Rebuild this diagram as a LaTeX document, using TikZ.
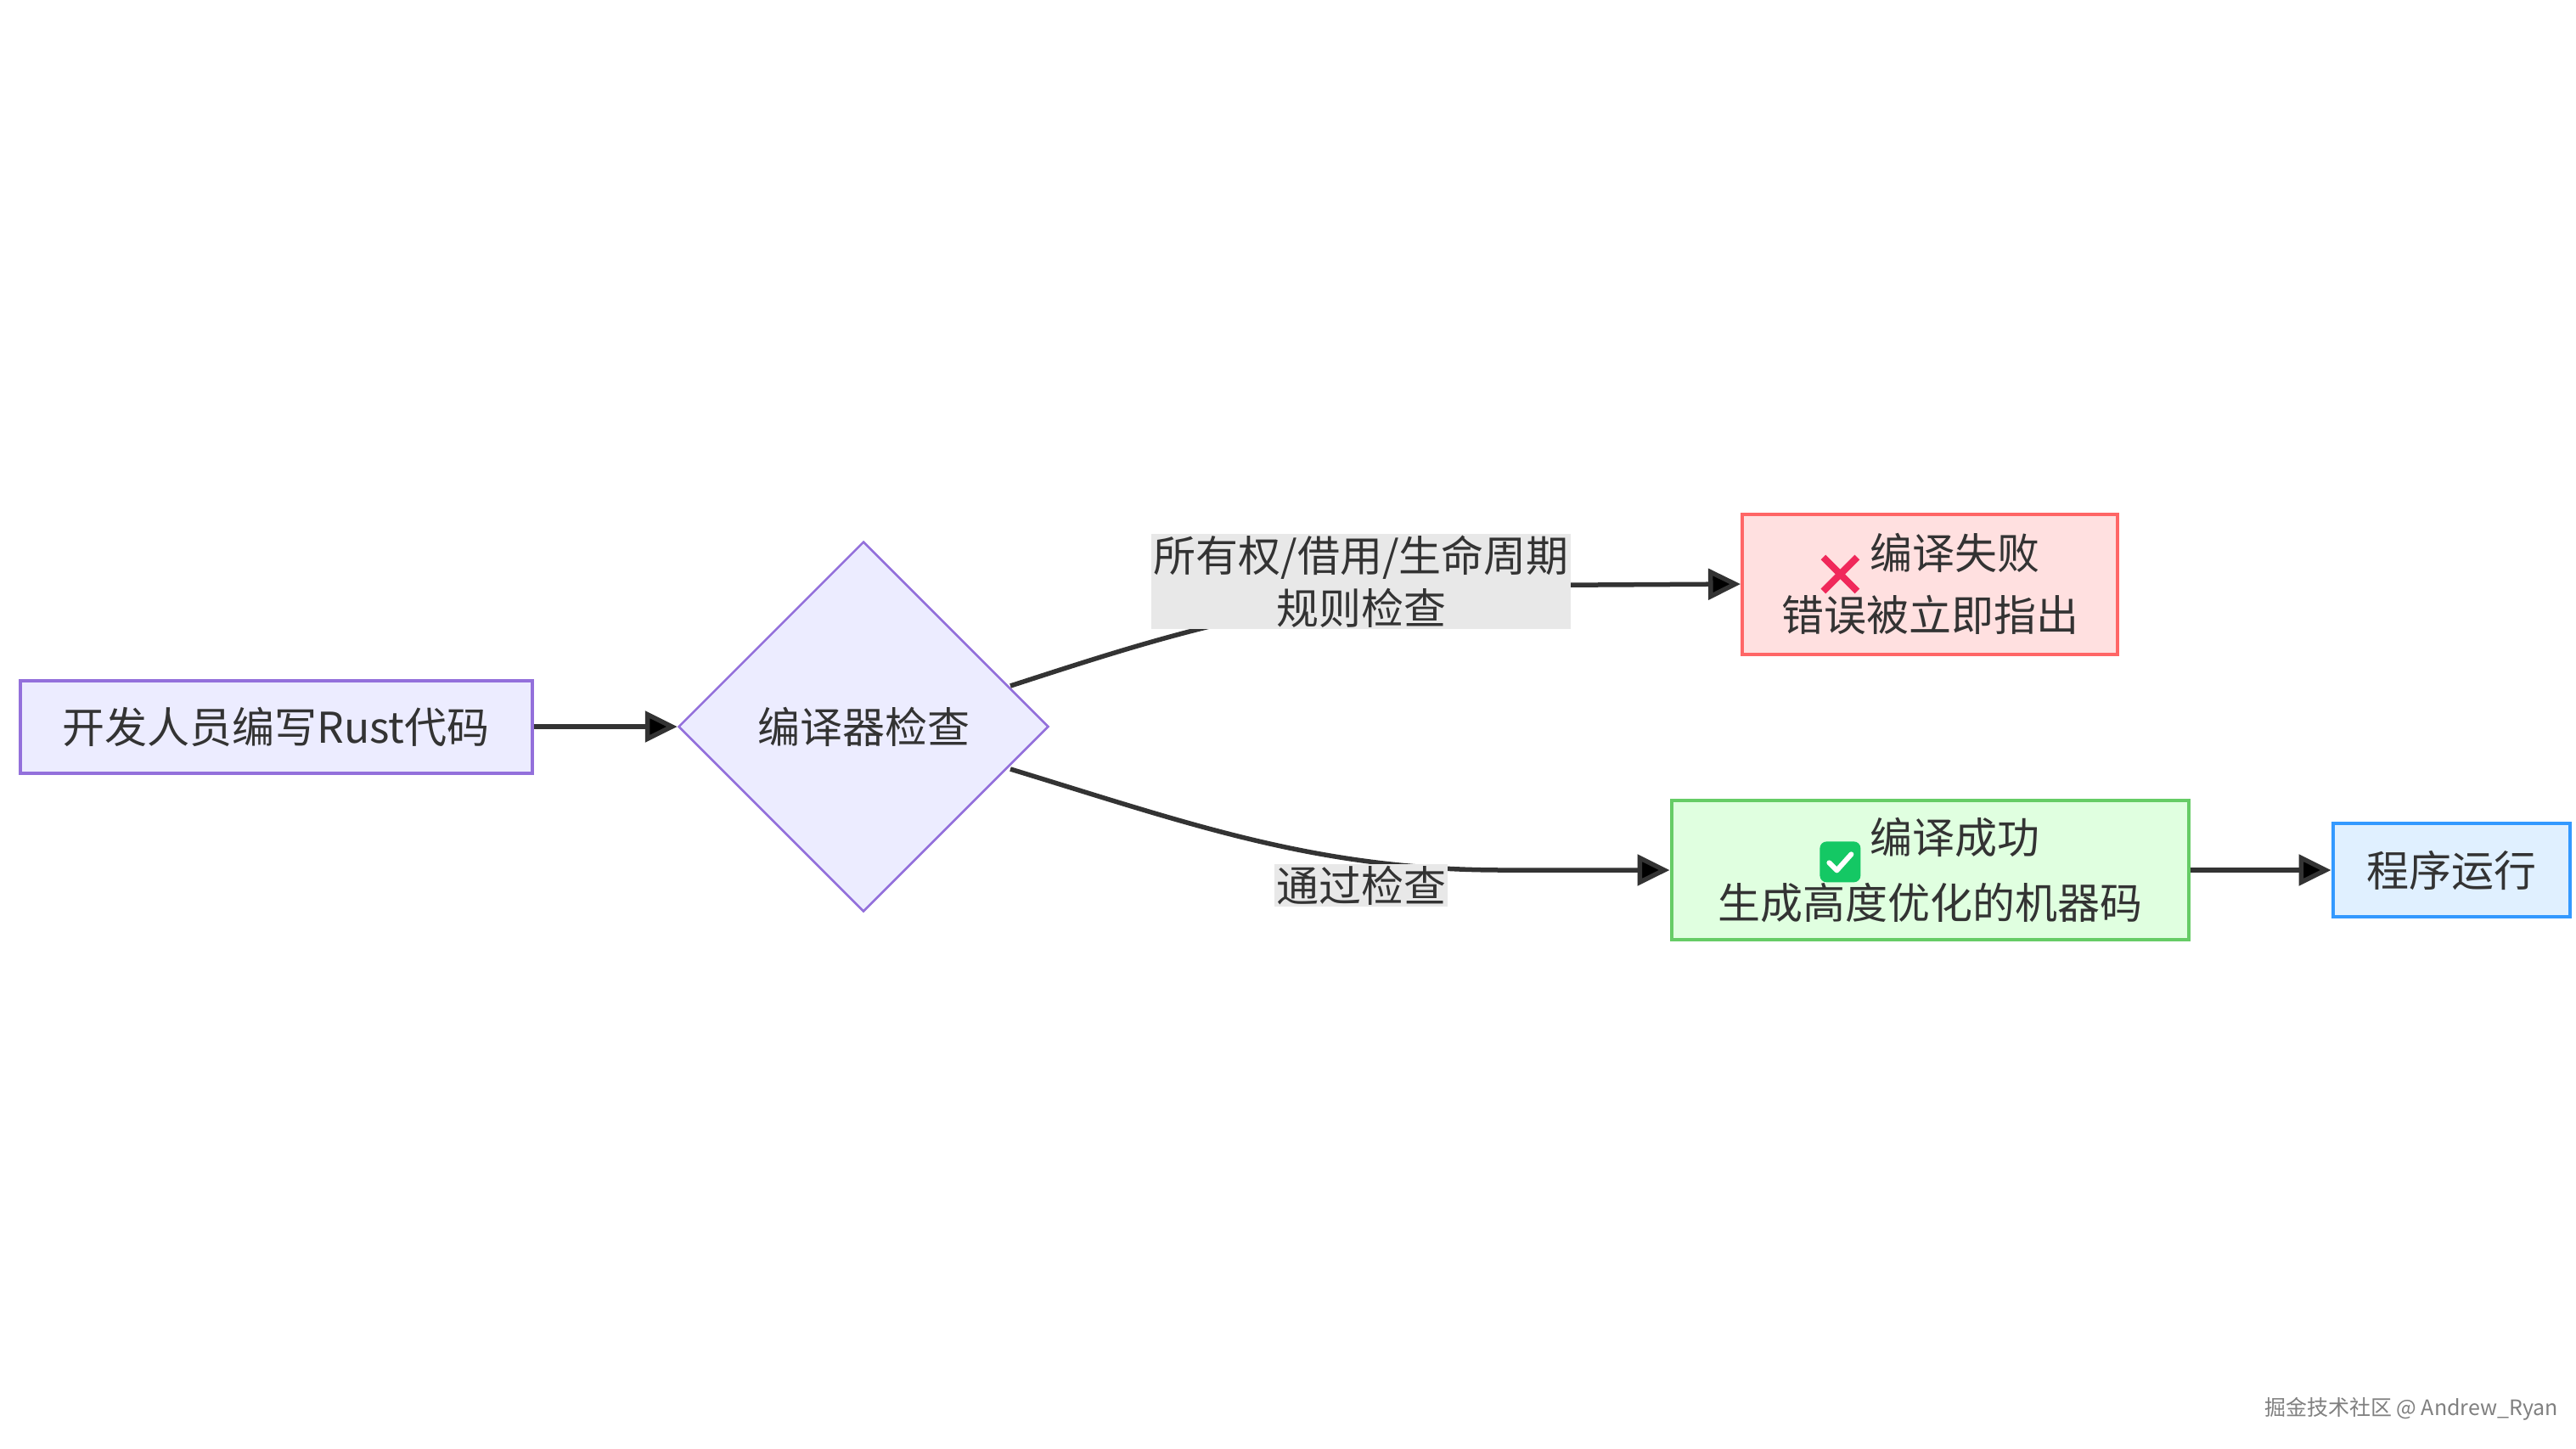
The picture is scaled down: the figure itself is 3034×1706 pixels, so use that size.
\documentclass[tikz,border=0pt]{standalone}
\usepackage{fontspec}
\setmainfont{Noto Sans CJK SC}
\usetikzlibrary{arrows.meta,shapes.geometric}
\definecolor{tx}{HTML}{333333}
\newcommand{\redx}{\tikz[baseline=-14pt,line width=8pt,draw={rgb,255:red,240;green,40;blue,90}]{\draw (0,0)--(40pt,-40pt) (40pt,0)--(0,-40pt);}}
\newcommand{\greenck}{\tikz[baseline=-14pt]{\fill[rounded corners=8pt,fill={rgb,255:red,20;green,200;blue,100}] (0,0) rectangle (48pt,-48pt);\draw[white,line width=6pt,line cap=round,line join=round] (11pt,-25pt)--(20pt,-34pt)--(37pt,-15pt);}}
\begin{document}
\begin{tikzpicture}[x=1pt,y=-1pt,
  every node/.style={text=tx,font=\fontsize{50}{62}\selectfont,align=center,inner sep=0pt},
  box/.style={draw,line width=4pt,rectangle},
  lab/.style={fill={rgb,255:red,232;green,232;blue,232},inner sep=2pt},
  arr/.style={draw=tx,line width=5.5pt,-{Triangle[length=38pt,width=36pt]}}]
\useasboundingbox[fill=white] (0,0) rectangle (3034,1706);
\node[box,draw={rgb,255:red,147;green,112;blue,219},fill={rgb,255:red,236;green,236;blue,255},minimum width=603pt,minimum height=109pt] (a) at (325,856) {\raisebox{-14pt}{开发人员编写Rust代码}};
\node[diamond,draw={rgb,255:red,147;green,112;blue,219},line width=2.5pt,fill={rgb,255:red,236;green,236;blue,255},minimum width=436pt,minimum height=436pt] (b) at (1017,856) {\raisebox{-14pt}{编译器检查}};
\node[box,draw={rgb,255:red,255;green,102;blue,102},fill={rgb,255:red,255;green,224;blue,224},minimum width=442pt,minimum height=165pt] (c) at (2273,688) {\redx\ 编译失败\\错误被立即指出};
\node[box,draw={rgb,255:red,102;green,204;blue,102},fill={rgb,255:red,224;green,255;blue,224},minimum width=609pt,minimum height=164pt] (d) at (2273,1025) {\greenck\ 编译成功\\生成高度优化的机器码};
\node[box,draw={rgb,255:red,51;green,153;blue,255},fill={rgb,255:red,224;green,240;blue,255},minimum width=279pt,minimum height=110pt] (e) at (2887,1025) {\raisebox{-14pt}{程序运行}};
\coordinate (b1) at (1190,808);
\coordinate (b2) at (1190,906);
\draw[arr] (a.east) -- (b.west);
\draw[arr] (b1) .. controls (1400,740) and (1550,690) .. (1880,689) -- (c.west);
\draw[arr] (b2) .. controls (1400,970) and (1550,1025) .. (1770,1025) -- (d.west);
\draw[arr] (d.east) -- (e.west);
\node[lab] (l1) at (1603,685) {所有权/借用/生命周期\\规则检查};
\node[lab] (l2) at (1603,1043) {通过检查};
\node[font=\fontsize{25}{30}\selectfont,text=gray] (w) at (2840,1660) {掘金技术社区 @ Andrew\_Ryan};
\end{tikzpicture}
\end{document}
